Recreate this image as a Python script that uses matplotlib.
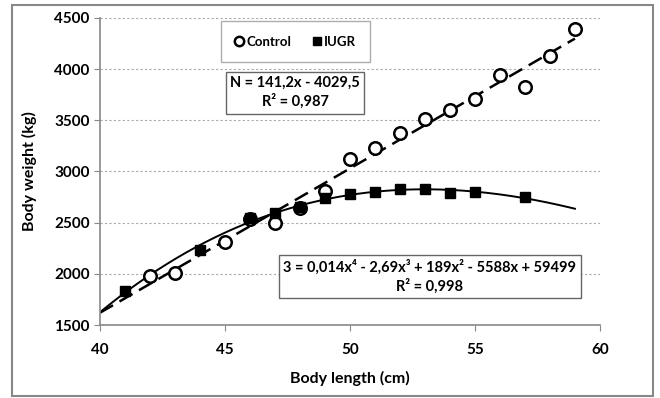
import numpy as np
import matplotlib
matplotlib.use("Agg")
import matplotlib.pyplot as plt
from matplotlib.patches import Rectangle

plt.rcParams['font.family'] = ['Lato', 'DejaVu Sans']

# Control group (open circles)
control_len = [42, 43, 45, 46, 47, 48, 49, 50, 51, 52, 53, 54, 55, 56, 57, 58, 59]
control_wt = [1980, 2005, 2310, 2540, 2495, 2640, 2810, 3120, 3230, 3380, 3510, 3600, 3710, 3940, 3830, 4130, 4390]

# IUGR group (filled squares)
iugr_len = [41, 44, 46, 47, 48, 49, 50, 51, 52, 53, 54, 55, 57]
iugr_wt = [1830, 2232, 2550, 2594, 2650, 2740, 2780, 2800, 2830, 2830, 2790, 2800, 2750]

eq_control = "N = 141,2x - 4029,5\nR² = 0,987"
eq_iugr = "3 = 0,014x⁴ - 2,69x³ + 189x² - 5588x + 59499\nR² = 0,998"

fig = plt.figure(figsize=(6.6, 3.98), dpi=100)
ax = fig.add_axes([0.1515, 0.1834, 0.7575, 0.7714])

# trendlines fitted from the data
xs = np.linspace(40, 59, 200)
lin = np.polyfit(control_len, control_wt, 1)
poly = np.polyfit(iugr_len, iugr_wt, 3)
ax.plot(xs, np.polyval(lin, xs), color='black', lw=1.8, ls=(0, (6, 3)), zorder=2)
ax.plot(xs, np.polyval(poly, xs), color='black', lw=1.4, zorder=2)

ax.plot(control_len, control_wt, 'o', mfc='white', mec='black', mew=1.8, ms=9,
        label='Control', zorder=3)
ax.plot(iugr_len, iugr_wt, 's', color='black', ms=7, label='IUGR', zorder=4)

ax.set_xlim(40, 60)
ax.set_ylim(1500, 4500)
ax.set_xticks([40, 45, 50, 55, 60])
ax.set_yticks(range(1500, 4501, 500))
ax.yaxis.grid(True, ls=(0, (2, 2)), color='#aaaaaa', lw=0.8)
ax.set_axisbelow(True)

for s in ['top', 'right']:
    ax.spines[s].set_visible(False)
for s in ['left', 'bottom']:
    ax.spines[s].set_color('#888888')
    ax.spines[s].set_linewidth(1.2)
ax.tick_params(colors='#888888', labelcolor='black', length=4, labelsize=11)
for lbl in ax.get_xticklabels() + ax.get_yticklabels():
    lbl.set_fontweight('bold')
ax.tick_params(axis='x', pad=9)

ax.set_xlabel('Body length (cm)', fontsize=11.5, fontweight='bold', labelpad=10)
ax.set_ylabel('Body weight (kg)', fontsize=11.5, fontweight='bold', labelpad=12)

leg = ax.legend(loc='upper left', bbox_to_anchor=(0.242, 0.99),
                ncol=2, frameon=True, fancybox=False, edgecolor='#999999',
                handlelength=0.6, handletextpad=0.25, columnspacing=1.6,
                markerscale=0.75, borderpad=1.1, borderaxespad=0,
                prop={'weight': 'bold', 'size': 9.5})

ax.text(47.8, 3770, eq_control, ha='center', va='center', fontsize=10.5, fontweight='bold',
        linespacing=1.3,
        bbox=dict(boxstyle='square,pad=0.3', fc='white', ec='#666666', lw=1))
ax.text(53.2, 1970, eq_iugr, ha='center', va='center', fontsize=10.5, fontweight='bold',
        linespacing=1.3,
        bbox=dict(boxstyle='square,pad=0.3', fc='white', ec='#666666', lw=1))

fig.patches.append(Rectangle((0.018, 0.005), 0.972, 0.982, transform=fig.transFigure,
                             fill=False, ec='#888888', lw=1.5))

fig.savefig('out.png', dpi=100)
